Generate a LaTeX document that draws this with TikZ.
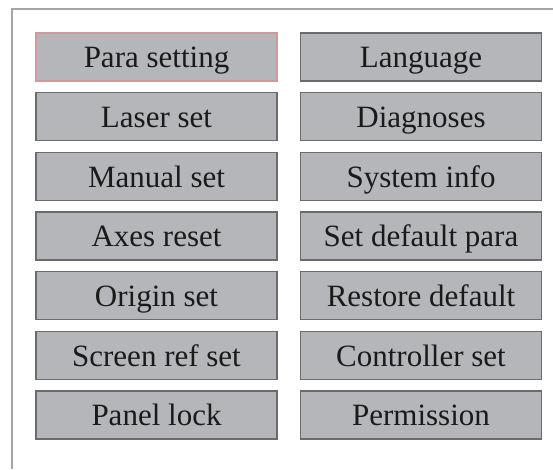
\documentclass[tikz,border=0pt]{standalone}
\usepackage{fontspec}
\setmainfont{Liberation Serif}
\definecolor{btnfill}{HTML}{B4B6B9}
\definecolor{btnline}{HTML}{6A6B6D}
\definecolor{selline}{HTML}{D09A9C}
\definecolor{frameline}{HTML}{ABA2A4}
\definecolor{txt}{HTML}{1A1A1A}
\begin{document}
\begin{tikzpicture}[x=1pt,y=1pt,
  btn/.style={draw=btnline, line width=1.6pt, fill=btnfill, minimum width=241pt, minimum height=48pt, inner sep=0pt, text=txt, font=\fontsize{31}{34}\selectfont, text height=24pt, text depth=2.5pt},
  selbtn/.style={btn, draw=selline}]
\useasboundingbox (0,0) rectangle (553,469);
\fill[white] (0,0) rectangle (553,469);
\draw[frameline, line width=1.5pt] (12,0) -- (12,460) -- (553,460);
\def\rowy#1{469-33-24-59.67*#1}
\node[selbtn] (para) at (156.5,{\rowy{0}}) {Para setting};
\node[btn] (lang) at (421,{\rowy{0}}) {Language};
\node[btn] (laser) at (156.5,{\rowy{1}}) {Laser set};
\node[btn] (diag) at (421,{\rowy{1}}) {Diagnoses};
\node[btn] (manual) at (156.5,{\rowy{2}}) {Manual set};
\node[btn] (sysinfo) at (421,{\rowy{2}}) {System info};
\node[btn] (axes) at (156.5,{\rowy{3}}) {Axes reset};
\node[btn] (setdef) at (421,{\rowy{3}}) {Set default para};
\node[btn] (origin) at (156.5,{\rowy{4}}) {Origin set};
\node[btn] (restore) at (421,{\rowy{4}}) {Restore default};
\node[btn] (screen) at (156.5,{\rowy{5}}) {Screen ref set};
\node[btn] (ctrl) at (421,{\rowy{5}}) {Controller set};
\node[btn] (panel) at (156.5,{\rowy{6}}) {Panel lock};
\node[btn] (perm) at (421,{\rowy{6}}) {Permission};
\end{tikzpicture}
\end{document}
